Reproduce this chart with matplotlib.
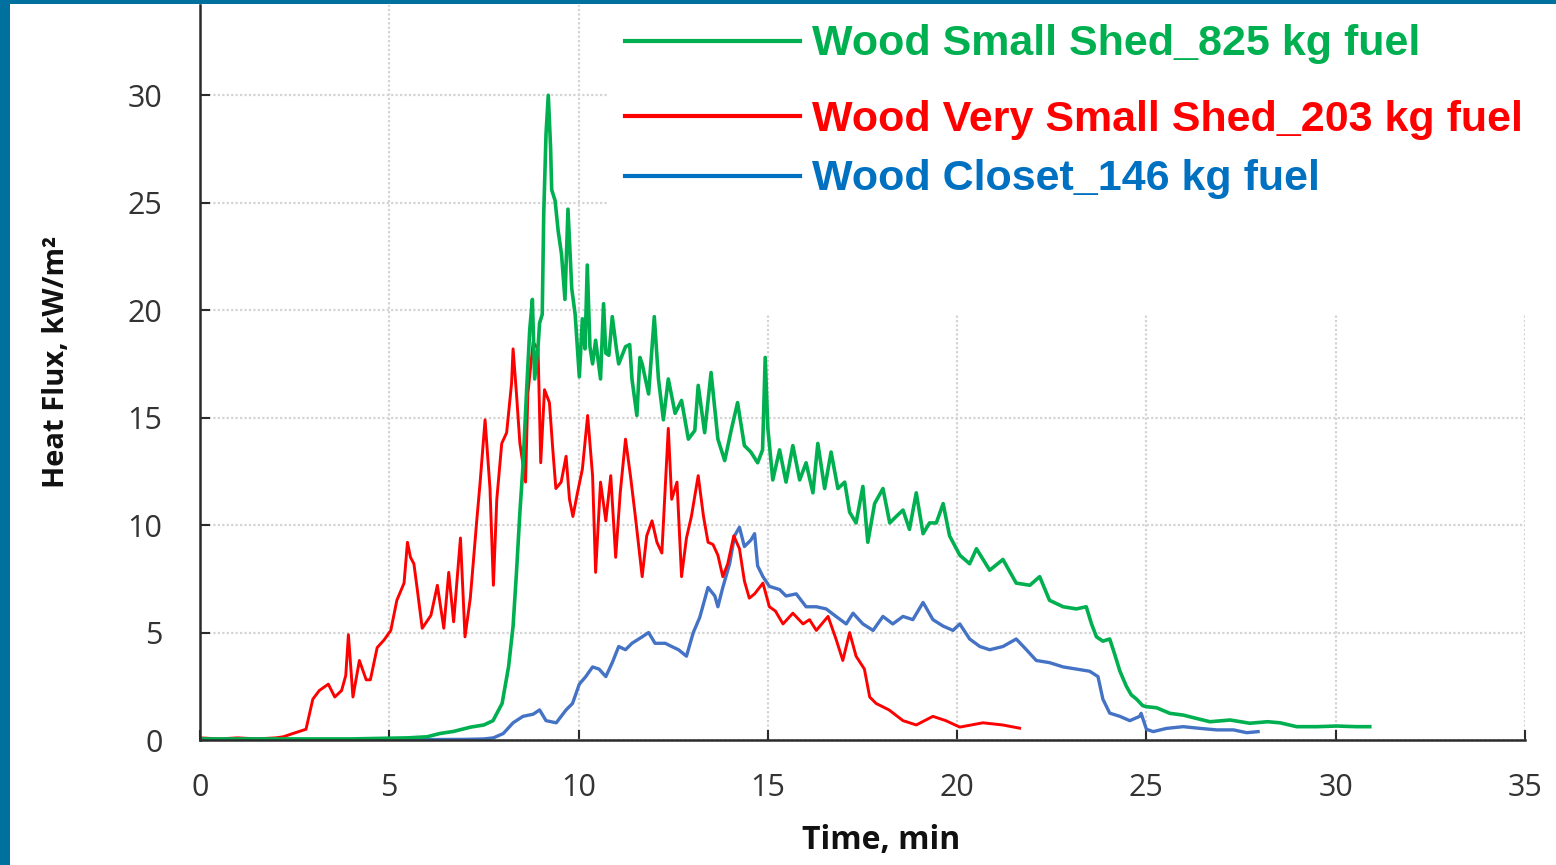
# heat flux curves - wood shed / closet burn tests

import matplotlib
matplotlib.use("Agg")
import matplotlib.pyplot as plt
from matplotlib.lines import Line2D
from matplotlib.patches import Rectangle

# Wood Very Small Shed, 203 kg fuel
t_red = [0, 0.5, 1.0, 1.5, 2.0, 2.2, 2.45, 2.8, 2.98, 3.15,
         3.39, 3.56, 3.74, 3.85, 3.92, 4.04, 4.21, 4.39, 4.5, 4.68,
         4.86, 5.04, 5.2, 5.39, 5.48, 5.56, 5.65, 5.74, 5.87, 6.1,
         6.27, 6.44, 6.57, 6.7, 6.88, 7.0, 7.14, 7.31, 7.4, 7.53,
         7.66, 7.75, 7.84, 7.97, 8.1, 8.23, 8.27, 8.36, 8.45, 8.6,
         8.66, 8.8, 8.93, 9.0, 9.1, 9.23, 9.32, 9.4, 9.54, 9.67,
         9.76, 9.85, 9.97, 10.1, 10.24, 10.37, 10.45, 10.58, 10.72, 10.85,
         10.98, 11.1, 11.24, 11.37, 11.5, 11.68, 11.8, 11.94, 12.07, 12.2,
         12.37, 12.46, 12.6, 12.72, 12.85, 12.98, 13.16, 13.3, 13.42, 13.55,
         13.68, 13.81, 13.94, 14.1, 14.25, 14.38, 14.51, 14.65, 14.87, 15.04,
         15.2, 15.4, 15.66, 15.93, 16.1, 16.28, 16.59, 16.8, 16.98, 17.16,
         17.33, 17.55, 17.69, 17.86, 18.2, 18.57, 18.92, 19.36, 19.7, 20.07,
         20.68, 21.2, 21.65]
q_red = [0.1, 0.05, 0.1, 0.05, 0.1, 0.15, 0.3, 0.5, 1.9, 2.3,
         2.6, 2.0, 2.3, 3.0, 4.9, 2.0, 3.7, 2.8, 2.8, 4.3,
         4.65, 5.1, 6.5, 7.3, 9.2, 8.5, 8.2, 7.0, 5.2, 5.8,
         7.2, 5.2, 7.8, 5.5, 9.4, 4.8, 6.6, 10.2, 12.0, 14.9,
         11.7, 7.2, 11.2, 13.8, 14.3, 16.6, 18.2, 16.1, 13.8, 12.0,
         16.1, 18.5, 18.2, 12.9, 16.3, 15.7, 13.5, 11.7, 12.0, 13.2,
         11.2, 10.4, 11.5, 12.6, 15.1, 12.3, 7.8, 12.0, 10.2, 12.3,
         8.5, 11.5, 14.0, 12.3, 10.4, 7.6, 9.5, 10.2, 9.2, 8.7,
         14.5, 11.2, 12.0, 7.6, 9.4, 10.4, 12.3, 10.4, 9.2, 9.1,
         8.6, 7.6, 8.2, 9.5, 8.9, 7.4, 6.6, 6.8, 7.3, 6.2,
         6.0, 5.4, 5.9, 5.4, 5.6, 5.1, 5.75, 4.7, 3.7, 5.0,
         3.9, 3.3, 2.0, 1.7, 1.4, 0.9, 0.7, 1.1, 0.9, 0.6,
         0.8, 0.7, 0.55]

# Wood Small Shed, 825 kg fuel
t_green = [0, 1, 2, 3, 4, 5, 5.5, 6.0, 6.33, 6.7,
           7.15, 7.5, 7.74, 7.98, 8.15, 8.27, 8.36, 8.45, 8.53, 8.62,
           8.71, 8.78, 8.84, 8.93, 8.97, 9.04, 9.08, 9.14, 9.2, 9.26,
           9.29, 9.38, 9.46, 9.55, 9.64, 9.72, 9.82, 9.91, 10.02, 10.1,
           10.17, 10.23, 10.3, 10.37, 10.45, 10.58, 10.66, 10.72, 10.8, 10.89,
           11.0, 11.06, 11.24, 11.35, 11.41, 11.54, 11.62, 11.68, 11.85, 12.0,
           12.11, 12.24, 12.37, 12.55, 12.72, 12.9, 13.07, 13.16, 13.33, 13.5,
           13.68, 13.86, 14.03, 14.2, 14.38, 14.55, 14.73, 14.86, 14.93, 15.0,
           15.13, 15.31, 15.48, 15.66, 15.84, 16.01, 16.19, 16.32, 16.5, 16.67,
           16.85, 17.03, 17.16, 17.33, 17.51, 17.64, 17.82, 18.04, 18.22, 18.39,
           18.57, 18.74, 18.92, 19.1, 19.27, 19.45, 19.63, 19.8, 20.07, 20.33,
           20.51, 20.86, 21.21, 21.56, 21.92, 22.18, 22.44, 22.8, 23.15, 23.41,
           23.55, 23.68, 23.85, 24.03, 24.16, 24.3, 24.47, 24.6, 24.74, 24.9,
           25.0, 25.27, 25.62, 25.97, 26.33, 26.68, 27.21, 27.73, 28.2, 28.53,
           28.97, 29.5, 30.02, 30.55, 30.9]
q_green = [0.05, 0.05, 0.05, 0.05, 0.05, 0.08, 0.1, 0.15, 0.3, 0.4,
           0.6, 0.7, 0.9, 1.7, 3.4, 5.3, 7.8, 10.6, 12.7, 16.0,
           19.1, 20.5, 16.8, 18.3, 19.4, 19.8, 24.5, 28.2, 30.0, 27.6,
           25.6, 25.1, 23.7, 22.6, 20.5, 24.7, 21.0, 19.8, 16.9, 19.6,
           18.2, 22.1, 18.3, 17.5, 18.6, 16.8, 20.3, 18.0, 17.9, 19.7,
           18.2, 17.5, 18.3, 18.4, 16.8, 15.1, 17.8, 17.5, 16.1, 19.7,
           16.8, 14.9, 16.8, 15.2, 15.8, 14.0, 14.4, 16.5, 14.3, 17.1,
           14.0, 13.0, 14.4, 15.7, 13.7, 13.4, 12.9, 13.5, 17.8, 14.5,
           12.1, 13.5, 12.0, 13.7, 12.1, 12.9, 11.5, 13.8, 11.7, 13.4,
           11.7, 12.0, 10.6, 10.1, 11.8, 9.2, 11.0, 11.7, 10.1, 10.4,
           10.7, 9.8, 11.5, 9.6, 10.1, 10.1, 11.0, 9.5, 8.6, 8.2,
           8.9, 7.9, 8.4, 7.3, 7.2, 7.6, 6.5, 6.2, 6.1, 6.2,
           5.4, 4.8, 4.6, 4.7, 4.0, 3.2, 2.5, 2.1, 1.9, 1.6,
           1.55, 1.5, 1.24, 1.16, 1.0, 0.85, 0.93, 0.78, 0.85, 0.8,
           0.62, 0.62, 0.65, 0.62, 0.62]

# Wood Closet, 146 kg fuel
t_blue = [0, 2, 4, 6, 7.0, 7.5, 7.75, 8.01, 8.27, 8.53,
          8.8, 8.97, 9.14, 9.41, 9.67, 9.84, 10.02, 10.19, 10.37, 10.54,
          10.72, 10.89, 11.06, 11.24, 11.41, 11.68, 11.85, 12.02, 12.29, 12.46,
          12.64, 12.85, 13.03, 13.2, 13.42, 13.6, 13.68, 13.81, 13.99, 14.12,
          14.25, 14.38, 14.55, 14.65, 14.73, 14.87, 15.04, 15.31, 15.48, 15.75,
          16.01, 16.28, 16.54, 16.8, 17.07, 17.25, 17.51, 17.78, 18.04, 18.3,
          18.57, 18.83, 19.1, 19.36, 19.63, 19.89, 20.07, 20.33, 20.6, 20.86,
          21.21, 21.56, 21.83, 22.09, 22.44, 22.8, 23.15, 23.5, 23.72, 23.85,
          24.03, 24.3, 24.56, 24.82, 24.86, 25.0, 25.18, 25.53, 25.97, 26.42,
          26.86, 27.3, 27.65, 27.95]
q_blue = [0.0, 0.0, 0.0, 0.02, 0.03, 0.05, 0.1, 0.3, 0.8, 1.1,
          1.2, 1.4, 0.9, 0.8, 1.4, 1.7, 2.6, 2.95, 3.4, 3.3,
          2.95, 3.6, 4.35, 4.2, 4.5, 4.8, 5.0, 4.5, 4.5, 4.35,
          4.2, 3.9, 5.0, 5.7, 7.1, 6.7, 6.2, 7.1, 8.2, 9.5,
          9.9, 9.0, 9.3, 9.6, 8.1, 7.6, 7.15, 7.0, 6.7, 6.8,
          6.2, 6.2, 6.1, 5.75, 5.4, 5.9, 5.4, 5.1, 5.75, 5.4,
          5.75, 5.6, 6.4, 5.6, 5.3, 5.1, 5.4, 4.7, 4.35, 4.2,
          4.35, 4.7, 4.2, 3.7, 3.6, 3.4, 3.3, 3.2, 2.95, 1.9,
          1.25, 1.1, 0.9, 1.1, 1.24, 0.5, 0.39, 0.54, 0.62, 0.54,
          0.47, 0.47, 0.34, 0.39]

labels = ["Wood Small Shed_825 kg fuel",
          "Wood Very Small Shed_203 kg fuel",
          "Wood Closet_146 kg fuel"]
x_ticks = [0, 5, 10, 15, 20, 25, 30, 35]
y_ticks = [0, 5, 10, 15, 20, 25, 30]

GREEN = "#00b050"
RED = "#ff0000"
BLUE = "#4472c4"
BLUE_TXT = "#0070c0"
FRAME = "#00709f"
DARK = "#2b2b2b"

W, H = 1556, 865
fig = plt.figure(figsize=(W / 100, H / 100), dpi=100)
ax = fig.add_axes([200 / W, 1 - 740 / H, 1325 / W, 735 / H])

ax.plot(t_blue, q_blue, color=BLUE, lw=2.4, zorder=3)
ax.plot(t_red, q_red, color=RED, lw=2.1, zorder=4)
ax.plot(t_green, q_green, color=GREEN, lw=2.6, zorder=5)

ax.set_xlim(0, 35)
ax.set_ylim(0, 34.2)
ax.set_xticks(x_ticks)
ax.set_yticks(y_ticks)
ax.grid(True, color="#d4d4d4", lw=1.6, ls=(0, (1, 1)), zorder=0)
ax.set_axisbelow(True)

for s in ["top", "right"]:
    ax.spines[s].set_visible(False)
for s in ["left", "bottom"]:
    ax.spines[s].set_color(DARK)
    ax.spines[s].set_linewidth(1.8)
    ax.spines[s].set_zorder(6)

ax.tick_params(direction="in", length=7, width=1.5, color=DARK,
               labelsize=22, labelcolor="#333333")
ax.tick_params(axis="y", pad=27)
ax.tick_params(axis="x", pad=24)
for lab in ax.get_xticklabels() + ax.get_yticklabels():
    lab.set_family("Open Sans")

ax.set_xlabel("Time, min", fontsize=23, fontweight="bold", family="Open Sans", color="#111111")
ax.set_ylabel("Heat Flux, kW/m²", fontsize=21, fontweight="bold", family="Open Sans", color="#111111")
ax.xaxis.set_label_coords(0.514, -0.137)
ax.yaxis.set_label_coords(-0.108, 0.514)
ax.xaxis.label.set_va("center")
ax.yaxis.label.set_va("center")

# white legend block (it also hides grid and curves behind it)
fig.add_artist(Rectangle((608 / W, 1 - 315 / H), (W - 608) / W, 311 / H,
                         transform=fig.transFigure, facecolor="white",
                         edgecolor="none", zorder=5))
leg_rows = [(labels[0], GREEN, GREEN, 41, 55),
            (labels[1], RED, RED, 116, 131),
            (labels[2], BLUE_TXT, BLUE_TXT, 176, 190)]
for txt, lc, tc, yl, yb in leg_rows:
    fig.add_artist(Line2D([625 / W, 800 / W], [1 - yl / H, 1 - yl / H],
                          color=lc, lw=3, transform=fig.transFigure, zorder=6))
    fig.text(812 / W, 1 - yb / H, txt, color=tc, fontsize=31, fontweight="bold",
             family="Liberation Sans", va="baseline", zorder=6)

# blue slide frame on the left and top
fig.add_artist(Rectangle((0, 0), 10 / W, 1, transform=fig.transFigure,
                         facecolor=FRAME, edgecolor="none", zorder=7))
fig.add_artist(Rectangle((0, 1 - 4 / H), 1, 4 / H, transform=fig.transFigure,
                         facecolor=FRAME, edgecolor="none", zorder=7))

fig.savefig("out.png", dpi=100)
